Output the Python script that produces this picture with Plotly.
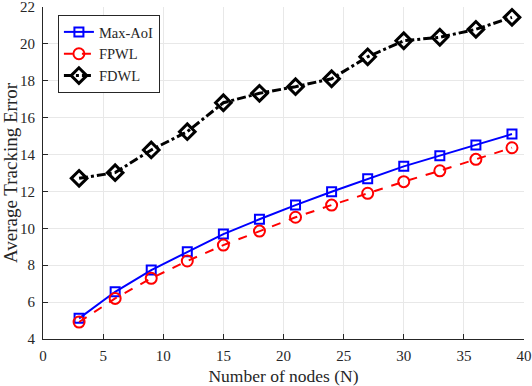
import plotly.graph_objects as go

nodes = [3, 6, 9, 12, 15, 18, 21, 24, 27, 30, 33, 36, 39]
max_aoi = [5.12, 6.56, 7.74, 8.73, 9.69, 10.49, 11.26, 11.98, 12.69, 13.36, 13.94, 14.52, 15.11]
fpwl = [4.92, 6.20, 7.29, 8.23, 9.09, 9.85, 10.60, 11.26, 11.90, 12.53, 13.12, 13.74, 14.37]
fdwl = [12.71, 13.02, 14.25, 15.24, 16.81, 17.32, 17.68, 18.11, 19.30, 20.17, 20.36, 20.79, 21.44]

x_ticks = [0, 5, 10, 15, 20, 25, 30, 35, 40]
y_ticks = [4, 6, 8, 10, 12, 14, 16, 18, 20, 22]

font_family = "Liberation Serif, Times New Roman, serif"
axis_color = "#262626"

fig = go.Figure()
fig.add_trace(go.Scatter(
    x=nodes, y=max_aoi, name="Max-AoI", mode="lines+markers",
    line=dict(color="#0000ff", width=2),
    marker=dict(symbol="square-open", size=9, color="#0000ff", line=dict(width=2)),
))
fig.add_trace(go.Scatter(
    x=nodes, y=fpwl, name="FPWL", mode="lines+markers",
    line=dict(color="#ff0000", width=2, dash="dash"),
    marker=dict(symbol="circle-open", size=11, color="#ff0000", line=dict(width=2)),
))
fig.add_trace(go.Scatter(
    x=nodes, y=fdwl, name="FDWL", mode="lines+markers",
    line=dict(color="#000000", width=3, dash="dashdot"),
    marker=dict(symbol="diamond-open", size=12, color="#000000", line=dict(width=3)),
))

fig.update_layout(
    width=532, height=386,
    margin=dict(l=43, r=8, t=7, b=47, pad=0),
    paper_bgcolor="white", plot_bgcolor="white",
    font=dict(family=font_family, size=15, color=axis_color),
    showlegend=True,
    legend=dict(
        x=0.031, y=0.976, xanchor="left", yanchor="top",
        bgcolor="white", bordercolor="#262626", borderwidth=1,
        font=dict(family=font_family, size=14.5, color=axis_color),
        tracegroupgap=0, itemwidth=30,
    ),
)
fig.update_xaxes(
    range=[0, 40], tickvals=x_ticks, ticks="inside", ticklen=5, tickcolor=axis_color,
    showline=True, linecolor=axis_color, linewidth=1,
    showgrid=True, gridcolor="#e8e8e8", gridwidth=1, zeroline=False,
    title=dict(text="Number of nodes (N)", font=dict(size=17.5), standoff=6),
    tickfont=dict(size=15), automargin=False, ticklabeloverflow="allow",
    ticklabelstandoff=3,
)
fig.update_yaxes(
    range=[4, 22], tickvals=y_ticks, ticks="inside", ticklen=5, tickcolor=axis_color,
    showline=True, linecolor=axis_color, linewidth=1,
    showgrid=True, gridcolor="#e8e8e8", gridwidth=1, zeroline=False,
    title=dict(text="Average Tracking Error", font=dict(size=19), standoff=0),
    tickfont=dict(size=15), automargin=False, ticklabeloverflow="allow",
    ticklabelstandoff=4,
)
fig.write_html("out.html", config={"displayModeBar": False},
               post_script="document.body.style.margin='0';")
